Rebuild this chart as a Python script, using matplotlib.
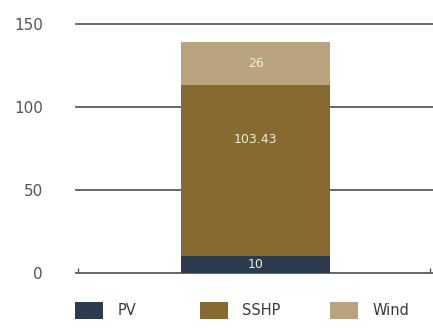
import matplotlib.pyplot as plt
from matplotlib.patches import Patch

# data
series = ["PV", "SSHP", "Wind"]
values = [10, 103.43, 26]
labels = ["10", "103.43", "26"]
colors = ["#2c3b4f", "#866a30", "#b9a47f"]
yticks = [0, 50, 100, 150]

fig = plt.figure(figsize=(4.33, 3.3), dpi=100)
ax = fig.add_axes([0.176, 0.173, 0.824, 0.754])

for t in yticks:
    ax.axhline(t, color="#5a5a5a", lw=1.3, zorder=1, clip_on=False)
# small end ticks on the baseline
ax.vlines([0.004, 0.992], 0, 3, color="#5a5a5a", lw=1.0, zorder=1)

bottom = 0
for name, v, lab, c in zip(series, values, labels, colors):
    ax.bar(0.503, v, width=0.417, bottom=bottom, color=c, zorder=2, label=name)
    ax.text(0.503, bottom + v / 2 if name != "SSHP" else bottom + v * 0.68, lab,
            ha="center", va="center", color="#f3ecd8", fontsize=9, zorder=3)
    bottom += v

ax.set_xlim(0, 1)
ax.set_ylim(0, 150)
ax.set_yticks(yticks)
ax.set_xticks([])
ax.tick_params(axis="y", length=0, pad=24, labelsize=11, labelcolor="#555555")
for s in ax.spines.values():
    s.set_visible(False)

# legend entries, one per column
for n, c, x in zip(series, colors, [0.173, 0.462, 0.762]):
    fig.legend(handles=[Patch(facecolor=c, label=n)], loc="center left",
               bbox_to_anchor=(x, 0.06), frameon=False, fontsize=10.5,
               handlelength=1.9, handleheight=1.4, handletextpad=1.0,
               borderpad=0, borderaxespad=0, labelcolor="#3a3a3a")

fig.savefig("out.png", dpi=100)
